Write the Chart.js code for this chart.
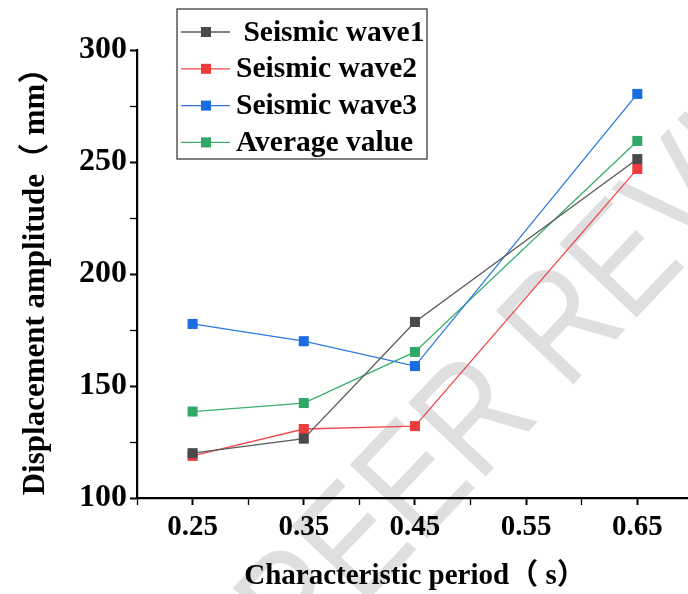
<!DOCTYPE html>
<html>
<head>
<meta charset="utf-8">
<script src="https://cdn.jsdelivr.net/npm/chart.js@4.4.0/dist/chart.umd.min.js"></script>
<style>
  html, body { margin: 0; padding: 0; background: #fff; overflow: hidden; }
  #wrap { width: 700px; height: 594px; }
</style>
</head>
<body>
<div id="wrap"><canvas id="chart"></canvas></div>
<script>
const periods = [0.25, 0.35, 0.45, 0.65];
const wave1 = [120, 126.5, 178.6, 251.3];
const wave2 = [118.8, 130.8, 132.1, 246.9];
const wave3 = [177.7, 170, 158.9, 280.4];
const average = [138.6, 142.4, 165.2, 259.4];
const seriesLabels = [' Seismic wave1', 'Seismic wave2', 'Seismic wave3', 'Average value'];
const lineColors = ['#5a5a5a', '#f04848', '#2a78e4', '#3aae6e'];
const markerColors = ['#4a4a4a', '#ef3b3b', '#1a6de0', '#30a867'];

const serif = '"Liberation Serif", "Times New Roman", "Noto Sans CJK SC", serif';

function toPoints(ys) {
  return periods.map((x, i) => ({ x: x, y: ys[i] }));
}

const allSeries = [wave1, wave2, wave3, average];

const datasets = allSeries.map((ys, i) => ({
  label: seriesLabels[i],
  data: toPoints(ys),
  borderColor: lineColors[i],
  backgroundColor: markerColors[i],
  borderWidth: 1.3,
  pointStyle: 'rect',
  pointRadius: 7.1,
  pointBorderWidth: 0,
  pointHoverRadius: 7.1,
  tension: 0
}));

// light grey diagonal stamp behind everything
const stampPlugin = {
  id: 'stamp',
  beforeDraw(chart) {
    const ctx = chart.ctx;
    ctx.save();
    ctx.translate(303, 669);
    ctx.rotate(-46.5 * Math.PI / 180);
    ctx.scale(0.822, 1);
    ctx.fillStyle = '#dfdfdf';
    ctx.font = '155px "Liberation Sans", Arial, sans-serif';
    ctx.textBaseline = 'alphabetic';
    ctx.fillText('PEER REVIEW', 0, 0);
    ctx.restore();
  }
};

// boxed legend in the upper left
const boxLegend = {
  id: 'boxLegend',
  afterDraw(chart) {
    const ctx = chart.ctx;
    ctx.save();
    ctx.fillStyle = '#fff';
    ctx.fillRect(177, 9, 250, 150);
    ctx.strokeStyle = '#555';
    ctx.lineWidth = 1.5;
    ctx.strokeRect(177, 9, 250, 150);
    chart.data.datasets.forEach((ds, i) => {
      const y = 32 + i * 36.8;
      ctx.strokeStyle = ds.borderColor;
      ctx.lineWidth = 1.3;
      ctx.beginPath();
      ctx.moveTo(181, y);
      ctx.lineTo(230, y);
      ctx.stroke();
      ctx.fillStyle = ds.backgroundColor;
      ctx.fillRect(201, y - 5, 10, 10);
      ctx.fillStyle = '#000';
      ctx.font = 'bold 29.5px ' + serif;
      ctx.textBaseline = 'middle';
      ctx.textAlign = 'left';
      ctx.fillText(ds.label, 236, y + 1);
    });
    ctx.restore();
  }
};

new Chart(document.getElementById('chart'), {
  type: 'line',
  data: { datasets: datasets },
  options: {
    responsive: true,
    maintainAspectRatio: false,
    animation: false,
    layout: { padding: { top: 50, right: 4, left: 0, bottom: 0 } },
    plugins: {
      legend: { display: false },
      tooltip: { enabled: false }
    },
    scales: {
      x: {
        type: 'linear',
        min: 0.2,
        max: 0.7,
        afterFit(scale) { scale.height = 96; },
        border: { color: '#000', width: 2.2 },
        grid: {
          drawOnChartArea: false,
          drawTicks: true,
          tickLength: 7,
          tickColor: '#000',
          tickWidth: ctx => (Math.round(ctx.tick.value * 100) % 10 === 5 ? 2 : 1.3)
        },
        ticks: {
          stepSize: 0.05,
          color: '#000',
          padding: 5,
          maxRotation: 0,
          autoSkip: false,
          font: { family: serif, size: 29, weight: 'bold' },
          callback: v => (Math.round(v * 100) % 10 === 5 ? v.toFixed(2) : '')
        },
        title: {
          display: true,
          text: 'Characteristic period（ s）',
          color: '#000',
          padding: { top: 4, bottom: 0 },
          font: { family: serif, size: 29, weight: 'bold' }
        }
      },
      y: {
        min: 100,
        max: 300,
        afterFit(scale) { scale.width = 137; },
        border: { color: '#000', width: 2.2 },
        grid: {
          drawOnChartArea: false,
          drawTicks: true,
          tickLength: 7,
          tickColor: '#000',
          tickWidth: ctx => (ctx.tick.value % 50 === 0 ? 2 : 1.3)
        },
        ticks: {
          stepSize: 25,
          color: '#000',
          padding: 3,
          autoSkip: false,
          font: { family: serif, size: 32, weight: 'bold' },
          callback: v => (v % 50 === 0 ? String(v) : '')
        },
        title: {
          display: true,
          text: 'Displacement amplitude（ mm）',
          color: '#000',
          padding: { top: 17, bottom: 0 },
          font: { family: serif, size: 31, weight: 'bold' }
        }
      }
    }
  },
  plugins: [stampPlugin, boxLegend]
});
</script>
</body>
</html>
